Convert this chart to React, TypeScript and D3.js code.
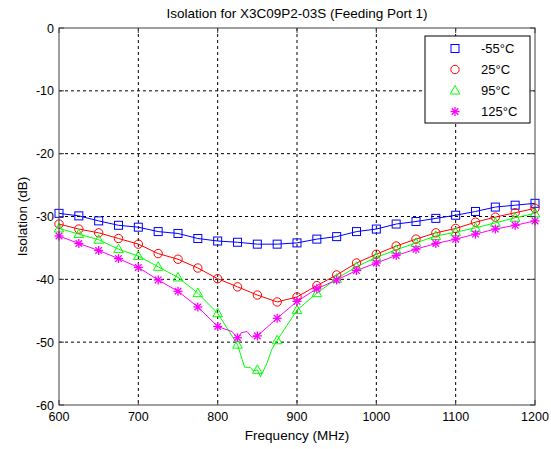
import React from "react";
import * as d3 from "d3";

const freqs = [600, 625, 650, 675, 700, 725, 750, 775, 800, 825, 850, 875, 900, 925, 950, 975, 1000, 1025, 1050, 1075, 1100, 1125, 1150, 1175, 1200];
const seriesM55 = [-29.5, -29.9, -30.7, -31.4, -31.7, -32.4, -32.7, -33.5, -33.9, -34.1, -34.4, -34.4, -34.2, -33.6, -33.2, -32.4, -32.0, -31.2, -30.8, -30.3, -29.8, -29.2, -28.5, -28.2, -27.9];
const series25 = [-31.2, -32.0, -32.6, -33.5, -34.4, -35.9, -36.8, -38.2, -39.9, -41.2, -42.5, -43.6, -42.8, -41.0, -39.3, -37.4, -36.0, -34.7, -33.6, -32.6, -31.9, -30.9, -30.1, -29.4, -28.7];
const series95 = [-31.9, -32.8, -33.7, -35.2, -36.3, -38.0, -39.7, -42.2, -45.4, -50.4, -54.4, -49.7, -44.9, -42.2, -39.9, -38.0, -36.5, -35.3, -34.2, -33.1, -32.5, -31.8, -31.0, -30.2, -29.5];
const series125 = [-33.1, -34.3, -35.4, -36.7, -38.1, -40.1, -41.9, -44.4, -47.5, -49.3, -49.0, -46.2, -43.5, -41.5, -40.1, -38.6, -37.4, -36.2, -35.2, -34.3, -33.6, -32.8, -32.0, -31.4, -30.7];
// extra (unmarked) line samples
const extra95Freq = [834, 841, 845, 854, 862, 868];
const extra95Val = [-54.0, -54.0, -54.6, -55.5, -53.4, -51.2];
const extra125Freq = [818, 830, 837, 843];
const extra125Val = [-48.3, -48.5, -48.3, -49.2];

const xTicks = [600, 700, 800, 900, 1000, 1100, 1200];
const yTicks = [0, -10, -20, -30, -40, -50, -60];
const legendLabels = ["-55\u00B0C", "25\u00B0C", "95\u00B0C", "125\u00B0C"];
const colors = ["#0000ff", "#ff0000", "#00ff00", "#ff00ff"];
const markerTypes = ["square", "circle", "triangle", "star"];

const title = "Isolation for X3C09P2-03S (Feeding Port 1)";
const xLabel = "Frequency (MHz)";
const yLabel = "Isolation (dB)";

const W = 551, H = 449;
const L = 59, R = 535, T = 28, B = 405;
const FONT = "'Liberation Sans', Arial, sans-serif";

function Marker({ type, x, y, color }: { type: string; x: number; y: number; color: string }) {
  if (type === "square") return <rect x={x - 4} y={y - 4} width={8} height={8} fill="none" stroke={color} strokeWidth={1} />;
  if (type === "circle") return <circle cx={x} cy={y} r={4.2} fill="none" stroke={color} strokeWidth={1} />;
  if (type === "triangle") {
    const p = `${x},${y - 5} ${x - 4.8},${y + 3.5} ${x + 4.8},${y + 3.5}`;
    return <polygon points={p} fill="none" stroke={color} strokeWidth={1} />;
  }
  const s = 4.5, d = 3.3;
  return (
    <g stroke={color} strokeWidth={1.3}>
      <line x1={x - s} y1={y} x2={x + s} y2={y} />
      <line x1={x} y1={y - s} x2={x} y2={y + s} />
      <line x1={x - d} y1={y - d} x2={x + d} y2={y + d} />
      <line x1={x - d} y1={y + d} x2={x + d} y2={y - d} />
    </g>
  );
}

export default function App() {
  const x = d3.scaleLinear().domain([600, 1200]).range([L, R]);
  const y = d3.scaleLinear().domain([-60, 0]).range([B, T]);
  const line = d3.line<[number, number]>().x((d) => x(d[0])).y((d) => y(d[1]));

  const series = [seriesM55, series25, series95, series125];
  const extras: [number[], number[]][] = [[[], []], [[], []], [extra95Freq, extra95Val], [extra125Freq, extra125Val]];
  const linePts = series.map((vals, i) => {
    const pts: [number, number][] = freqs.map((f, j) => [f, vals[j]]);
    extras[i][0].forEach((f, j) => pts.push([f, extras[i][1][j]]));
    pts.sort((a, b) => a[0] - b[0]);
    return pts;
  });

  const legX = 425, legY = 36, legW = 105, legH = 87;

  return (
    <svg width={W} height={H} style={{ position: "absolute", left: 0, top: 0, background: "#fff" }} fontFamily={FONT}>
      <rect x={0} y={0} width={W} height={H} fill="#fff" />
      {/* grid */}
      {xTicks.slice(1, -1).map((t) => (
        <line key={"gx" + t} x1={x(t)} x2={x(t)} y1={T} y2={B} stroke="#000" strokeWidth={1} strokeDasharray="3,3" />
      ))}
      {yTicks.slice(1, -1).map((t) => (
        <line key={"gy" + t} x1={L} x2={R} y1={y(t)} y2={y(t)} stroke="#000" strokeWidth={1} strokeDasharray="3,3" />
      ))}
      {/* lines */}
      {linePts.map((pts, i) => (
        <path key={"l" + i} d={line(pts) || ""} fill="none" stroke={colors[i]} strokeWidth={1} />
      ))}
      {series.map((vals, i) =>
        freqs.map((f, j) => <Marker key={`m${i}-${j}`} type={markerTypes[i]} x={x(f)} y={y(vals[j])} color={colors[i]} />)
      )}
      {/* box */}
      <rect x={L} y={T} width={R - L} height={B - T} fill="none" stroke="#404040" strokeWidth={1} />
      {/* ticks */}
      {xTicks.map((t) => (
        <g key={"tx" + t}>
          <line x1={x(t)} x2={x(t)} y1={B} y2={B - 5} stroke="#404040" />
          <line x1={x(t)} x2={x(t)} y1={T} y2={T + 5} stroke="#404040" />
          <text x={x(t)} y={B + 15.5} textAnchor="middle" fontSize={12.5} fill="#000">{t}</text>
        </g>
      ))}
      {yTicks.map((t) => (
        <g key={"ty" + t}>
          <line x1={L} x2={L + 5} y1={y(t)} y2={y(t)} stroke="#404040" />
          <line x1={R} x2={R - 5} y1={y(t)} y2={y(t)} stroke="#404040" />
          <text x={L - 5} y={y(t) + 4.5} textAnchor="end" fontSize={12.5} fill="#000">{t}</text>
        </g>
      ))}
      {/* labels */}
      <text x={(L + R) / 2} y={18} textAnchor="middle" fontSize={13.5} fill="#000">{title}</text>
      <text x={(L + R) / 2} y={440} textAnchor="middle" fontSize={13.5} fill="#000">{xLabel}</text>
      <text transform={`translate(27,${(T + B) / 2}) rotate(-90)`} textAnchor="middle" fontSize={13.5} fill="#000">{yLabel}</text>
      {/* legend */}
      <rect x={legX} y={legY} width={legW} height={legH} fill="#fff" stroke="#000" strokeWidth={1} />
      {legendLabels.map((lab, i) => (
        <g key={"lg" + i}>
          <Marker type={markerTypes[i]} x={455} y={48.5 + i * 21} color={colors[i]} />
          <text x={481} y={48.5 + i * 21 + 4.5} fontSize={13} fill="#000">{lab}</text>
        </g>
      ))}
    </svg>
  );
}
